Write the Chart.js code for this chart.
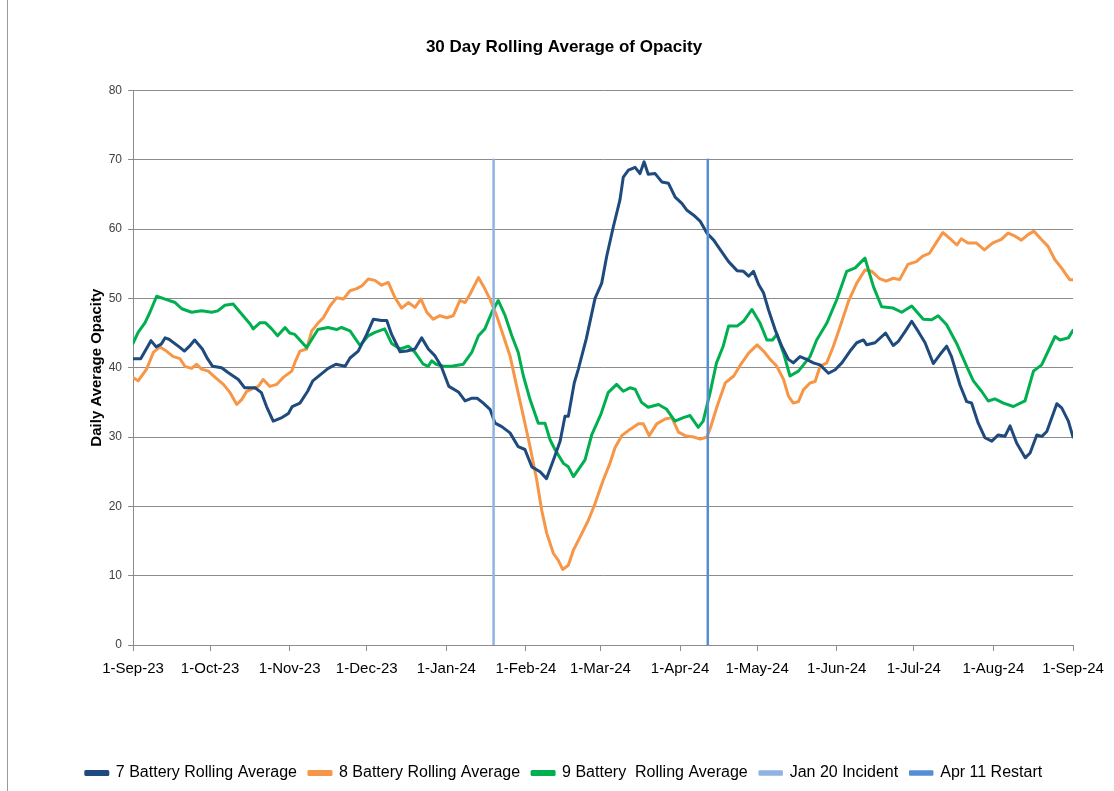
<!DOCTYPE html>
<html>
<head>
<meta charset="utf-8">
<title>30 Day Rolling Average of Opacity</title>
<script src="https://cdn.jsdelivr.net/npm/chart.js@4.4.1/dist/chart.umd.min.js"></script>
<style>
    body { margin: 0; background: #fff; }
    #wrap { position: relative; width: 1114px; height: 791px; }
    #frame { position: absolute; left: 7px; top: 0; width: 1px; height: 791px; background: #9a9a9a; }
</style>
</head>
<body>
<div id="wrap">
    <canvas id="opacityChart"></canvas>
    <div id="frame"></div>
</div>
<script>
// Days counted from 1-Sep-23
const monthDays = [0, 30, 61, 91, 122, 153, 182, 213, 243, 274, 304, 335, 366];
const monthLabels = ['1-Sep-23', '1-Oct-23', '1-Nov-23', '1-Dec-23', '1-Jan-24', '1-Feb-24',
    '1-Mar-24', '1-Apr-24', '1-May-24', '1-Jun-24', '1-Jul-24', '1-Aug-24', '1-Sep-24'];
const yTicks = [0, 10, 20, 30, 40, 50, 60, 70, 80];

// 7 Battery rolling average
const battery7Days = [0, 3, 7, 9, 11, 12.5, 14, 18, 20, 22, 24, 27, 29, 31, 34.5, 37, 39, 41, 43.5, 47.5,
    50, 52, 54.6, 58, 60.5, 62, 65, 68, 70, 73, 76, 79, 82.6, 84.5, 87.7, 91, 93.6, 96.8, 98.8, 100.7,
    104, 106.6, 109.8, 112.4, 115, 117.6, 120, 123, 126.7, 129.3, 132, 134, 136.4, 139, 141, 143.6, 146.8, 150, 152.6, 155.3,
    158.5, 161, 163.7, 166.3, 168.2, 169.5, 171.8, 173.4, 176.5, 179.9, 182.5, 184.4, 187, 189.6, 190.9, 192.9, 195.5, 197.4, 199, 200.6,
    203.3, 205.9, 208.5, 211.1, 213.7, 215.7, 218.3, 220.9, 223.5, 226.1, 228.7, 231.9, 235.2, 237.7, 239.7, 241.6, 243.6, 245.5,
    247.4, 250, 252.6, 255.2, 257.1, 259.7, 262.3, 264.9, 267.5, 270.8, 273.4, 276, 279.2, 281.8, 284.4, 285.7, 288.9, 293, 296, 298,
    300.6, 303.2, 305.8, 308.4, 311.6, 314.2, 316.8, 318.7, 322, 324.6, 326.5, 329.1, 331.7, 334.4, 336.9, 339.5, 341.5, 344.1, 347.4, 349.3,
    351.9, 353.9, 355.8, 359.7, 361.6, 364.2, 366];
const battery7 = [41.3, 41.3, 43.9, 43.0, 43.4, 44.3, 44.1, 43.0, 42.4, 43.1, 44.0, 42.7, 41.3, 40.2, 40.0, 39.3, 38.8, 38.3, 37.1, 37.1,
    36.4, 34.4, 32.3, 32.8, 33.4, 34.4, 34.9, 36.6, 38.1, 39.0, 39.9, 40.5, 40.2, 41.4, 42.4, 44.8, 47.0, 46.8, 46.8, 44.8,
    42.3, 42.4, 42.7, 44.3, 42.7, 41.7, 40.2, 37.3, 36.5, 35.2, 35.6, 35.6, 34.9, 34.0, 32.0, 31.5, 30.6, 28.6, 28.2, 25.7,
    25.0, 24.0, 26.7, 29.4, 33.0, 33.0, 37.8, 39.8, 44.2, 50.0, 52.2, 56.0, 60.3, 64.2, 67.5, 68.5, 68.9, 68.0, 69.7, 67.9,
    68.0, 66.8, 66.6, 64.6, 63.7, 62.7, 62.0, 61.1, 59.4, 58.4, 57.0, 55.3, 54.0, 53.9, 53.2, 53.9, 52.0, 50.8,
    48.4, 45.5, 43.1, 41.2, 40.7, 41.6, 41.2, 40.7, 40.4, 39.2, 39.7, 40.7, 42.4, 43.6, 44.0, 43.3, 43.6, 45.0, 43.2, 43.8,
    45.2, 46.7, 45.2, 43.6, 40.6, 41.9, 43.1, 41.6, 37.5, 35.1, 34.9, 32.0, 29.9, 29.4, 30.3, 30.1, 31.6, 29.1, 27.0, 27.7,
    30.3, 30.1, 30.8, 34.8, 34.2, 32.3, 30.0];

// 8 Battery rolling average
const battery8Days = [0, 2, 5.3, 7.9, 10.5, 13, 15.7, 18.3, 20.2, 22.8, 24.8, 26.7, 29.3, 32, 35.2, 37.8, 40.4, 42.3, 44.3, 46.8,
    48.8, 50.7, 53.3, 56, 58.5, 61.8, 63.3, 65, 67.6, 69.6, 72.2, 74.1, 76.7, 79.3, 81.9, 84.5, 87.1, 89.1, 91.6, 94.2,
    96.8, 99.4, 102, 104.6, 107.2, 109.8, 112.1, 114.4, 116.9, 119.5, 122.2, 124.7, 127.3, 129.3, 131.2, 134.5, 136.4, 139, 141.6, 144.2,
    146.8, 149.4, 152, 154.6, 157.2, 159.1, 161.1, 163.7, 165.6, 167.3, 169.5, 171.5, 174.1, 177.3, 179.9, 183.1, 185.7, 187.7, 190.3, 193.5,
    196.8, 198.7, 201, 203.9, 207.2, 209.8, 212.4, 215, 218.3, 220.9, 223.5, 224.8, 227.4, 230.6, 233.9, 236.5, 239.7, 243, 245.5, 248.1,
    250.7, 253.3, 255.2, 257.1, 259.1, 261, 263.6, 265.6, 267.5, 270.1, 272.7, 275.4, 278.6, 281.8, 285, 287.7, 290.5, 293.2, 296, 298.5,
    301.7, 305, 307.5, 310.1, 312.7, 315.3, 317.9, 320.8, 322.5, 325.1, 328.3, 331.5, 334.8, 338.1, 340.7, 343.3, 345.9, 348.5, 350.8, 353.7,
    356.3, 358.9, 361.5, 363.4, 364.7, 366];
const battery8 = [38.6, 38.1, 39.8, 42.2, 43.0, 42.4, 41.6, 41.3, 40.2, 39.9, 40.5, 39.8, 39.5, 38.6, 37.6, 36.4, 34.7, 35.4, 36.6, 37.0,
    37.3, 38.3, 37.3, 37.6, 38.6, 39.5, 41.0, 42.4, 42.7, 45.3, 46.5, 47.2, 48.9, 50.1, 49.9, 51.1, 51.4, 51.8, 52.8, 52.6,
    51.9, 52.3, 50.1, 48.6, 49.4, 48.7, 49.9, 48.0, 47.0, 47.5, 47.2, 47.5, 49.7, 49.4, 50.6, 53.0, 51.8, 49.9, 47.5, 44.6,
    41.7, 37.3, 33.0, 28.6, 23.8, 19.5, 16.1, 13.2, 12.2, 10.9, 11.5, 13.7, 15.6, 18.0, 20.4, 23.8, 26.2, 28.5, 30.2, 31.1,
    31.9, 31.9, 30.2, 31.9, 32.6, 32.8, 30.7, 30.2, 30.0, 29.7, 30.0, 31.3, 34.4, 37.8, 38.8, 40.4, 42.1, 43.3, 42.4, 41.2,
    40.2, 38.3, 35.9, 34.9, 35.1, 36.8, 37.8, 38.0, 40.2, 40.7, 43.1, 46.0, 49.6, 52.2, 54.1, 53.9, 52.9, 52.5, 52.9, 52.7,
    54.9, 55.3, 56.1, 56.5, 58.0, 59.5, 58.7, 57.7, 58.6, 58.0, 58.0, 57.0, 58.0, 58.5, 59.4, 59.0, 58.4, 59.2, 59.7, 58.5,
    57.5, 55.6, 54.4, 53.4, 52.7, 52.7];

// 9 Battery rolling average
const battery9Days = [0, 2, 4.7, 6.6, 9.2, 12.5, 16.4, 19, 22.8, 26.7, 30.6, 33, 35.8, 39, 41.7, 45.6, 46.8, 49.5, 51.5, 54,
    56.3, 59.2, 61, 63, 67.6, 72, 75.9, 79.3, 81.2, 84.5, 88.4, 91.6, 94.2, 98, 100.7, 104, 107.2, 109.8, 113, 115,
    116.3, 118, 120.8, 124, 128.6, 131.9, 134.5, 137, 139.7, 142.2, 144.9, 147.5, 150, 152, 154.6, 157.8, 160.4, 162.4, 164.3, 167.6,
    169.5, 171.5, 173.4, 176, 178.6, 182.2, 185, 188.3, 190.9, 193.5, 195.5, 198, 200.6, 204.6, 207.8, 211, 214.3, 216.9, 220.1, 222,
    224.7, 227.2, 229.8, 231.9, 235.2, 237.7, 241, 244.2, 246.8, 249, 250.7, 253.3, 255.8, 259.1, 263.6, 266.2, 270.1, 274, 277.9, 281.2,
    285, 288.3, 291.5, 296, 299.3, 303.2, 307.7, 311, 313.5, 316.8, 320.7, 324.6, 327.2, 330.4, 333, 335.6, 338.9, 342.8, 347.3, 350.6,
    353.8, 359, 360.9, 364.2, 366];
const battery9 = [43.5, 45.1, 46.5, 48.0, 50.3, 49.9, 49.4, 48.5, 48.0, 48.2, 48.0, 48.2, 49.0, 49.2, 48.0, 46.3, 45.6, 46.5, 46.5, 45.6,
    44.6, 45.8, 45.0, 44.8, 42.9, 45.5, 45.8, 45.5, 45.8, 45.3, 43.2, 44.6, 45.1, 45.6, 43.5, 42.7, 43.1, 42.2, 40.5, 40.2,
    41.0, 40.5, 40.2, 40.2, 40.5, 42.2, 44.6, 45.6, 48.0, 49.7, 47.5, 44.6, 42.2, 38.8, 35.4, 32.0, 32.0, 29.6, 28.2, 26.2,
    25.7, 24.3, 25.3, 26.7, 30.3, 33.3, 36.4, 37.6, 36.6, 37.1, 36.9, 35.0, 34.3, 34.7, 34.0, 32.3, 32.8, 33.1, 31.4, 32.3,
    36.4, 40.7, 43.1, 46.0, 46.0, 46.7, 48.4, 46.4, 44.0, 44.0, 44.8, 42.1, 38.8, 39.5, 41.6, 44.0, 46.4, 49.8, 53.9, 54.4,
    55.8, 51.7, 48.8, 48.6, 48.0, 48.9, 47.0, 46.9, 47.5, 46.2, 43.5, 40.2, 38.1, 36.6, 35.2, 35.5, 34.9, 34.4, 35.2, 39.5,
    40.4, 44.5, 44.0, 44.3, 45.4];

// Event markers (day from 1-Sep-23) and the span of the marker lines
const incidentDay = [140.4];
const restartDay = [223.8];
const markerSpan = [0, 70];

function toPoints(days, values) {
    return days.map((d, i) => ({ x: d, y: values[i] }));
}

const labelFont = "'Liberation Sans', Arial, sans-serif";

const ctx = document.getElementById('opacityChart').getContext('2d');
new Chart(ctx, {
    type: 'line',
    data: {
        datasets: [
            {
                label: '7 Battery Rolling Average',
                data: toPoints(battery7Days, battery7),
                borderColor: '#1F4A7E',
                backgroundColor: '#1F4A7E',
                borderWidth: 3,
                order: 1
            },
            {
                label: '8 Battery Rolling Average',
                data: toPoints(battery8Days, battery8),
                borderColor: '#F79646',
                backgroundColor: '#F79646',
                borderWidth: 3,
                order: 3
            },
            {
                label: '9 Battery  Rolling Average',
                data: toPoints(battery9Days, battery9),
                borderColor: '#00B050',
                backgroundColor: '#00B050',
                borderWidth: 3,
                order: 2
            },
            {
                label: 'Jan 20 Incident',
                data: markerSpan.map(v => ({ x: incidentDay[0], y: v })),
                borderColor: '#8EB4E3',
                backgroundColor: '#8EB4E3',
                borderWidth: 2.5,
                order: 0
            },
            {
                label: 'Apr 11 Restart',
                data: markerSpan.map(v => ({ x: restartDay[0], y: v })),
                borderColor: '#558ED5',
                backgroundColor: '#558ED5',
                borderWidth: 2.5,
                order: 0
            }
        ]
    },
    options: {
        responsive: true,
        maintainAspectRatio: false,
        animation: false,
        // left/right padding also centres the title and legend between the two
        layout: { padding: { left: 55, right: 41, top: 0, bottom: 0 } },
        elements: {
            point: { radius: 0, hoverRadius: 0 },
            line: { tension: 0, borderJoinStyle: 'round', borderCapStyle: 'round' }
        },
        plugins: {
            title: {
                display: true,
                text: '30 Day Rolling Average of Opacity',
                color: '#000',
                font: { family: labelFont, size: 17, weight: 'bold' },
                padding: { top: 37, bottom: 33 }
            },
            legend: {
                position: 'bottom',
                labels: {
                    color: '#000',
                    font: { family: labelFont, size: 16 },
                    boxWidth: 22,
                    boxHeight: 3,
                    padding: 12,
                    sort: (a, b) => a.datasetIndex - b.datasetIndex
                }
            },
            tooltip: { enabled: false }
        },
        scales: {
            x: {
                type: 'linear',
                min: 0,
                max: 366,
                afterBuildTicks: (axis) => {
                    axis.ticks = monthDays.map(v => ({ value: v }));
                },
                afterFit: (axis) => { axis.height = 108; },
                ticks: {
                    autoSkip: false,
                    maxRotation: 0,
                    padding: 9,
                    color: '#000',
                    font: { family: labelFont, size: 15 },
                    callback: (value) => monthLabels[monthDays.indexOf(value)]
                },
                grid: {
                    drawOnChartArea: false,
                    drawTicks: true,
                    tickLength: 6,
                    color: '#8c8c8c'
                },
                border: { color: '#8c8c8c', width: 1 }
            },
            y: {
                min: 0,
                max: 80,
                afterBuildTicks: (axis) => {
                    axis.ticks = yTicks.map(v => ({ value: v }));
                },
                afterFit: (axis) => { axis.width = 78; },
                ticks: {
                    padding: 6,
                    color: '#404040',
                    font: { family: labelFont, size: 12 }
                },
                grid: {
                    color: '#8c8c8c',
                    lineWidth: 1,
                    tickLength: 5
                },
                border: { color: '#8c8c8c', width: 1 },
                title: {
                    display: true,
                    text: 'Daily Average Opacity',
                    color: '#000',
                    font: { family: labelFont, size: 15, weight: 'bold' },
                    padding: { top: 33, bottom: 0 }
                }
            }
        }
    }
});
</script>
</body>
</html>
